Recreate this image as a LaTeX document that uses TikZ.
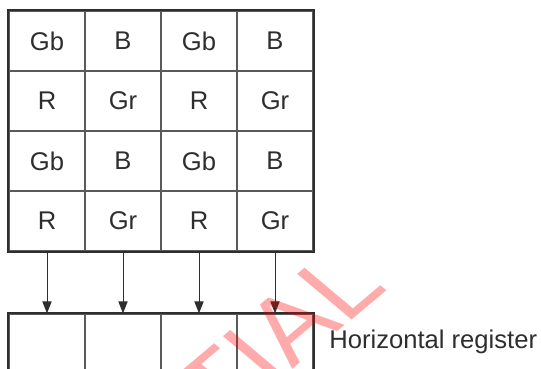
\documentclass[tikz,border=0pt]{standalone}
\usepackage{fontspec}
\setmainfont{Liberation Sans}
\usetikzlibrary{arrows.meta,positioning}
\definecolor{ink}{HTML}{2E2E2E}
\definecolor{thin}{HTML}{5A5A5A}
\tikzset{
  pixel/.style={draw=thin,line width=0.6pt,rectangle,minimum width=38pt,minimum height=30pt,inner sep=0pt,text=ink,font=\fontsize{12.8}{15}\selectfont},
  frame/.style={draw=ink,line width=1pt},
  transfer/.style={draw=ink,line width=0.5pt,-{Triangle[length=6pt,width=4.6pt]}},
  watermark/.style={text=red,opacity=0.33,font=\fontsize{47}{52}\selectfont,inner sep=0pt}
}
\begin{document}
\begin{tikzpicture}[x=0.5pt,y=-0.5pt]
        \useasboundingbox (0,0) rectangle (541,369);
        \clip (0,0) rectangle (541,369);
        % Pixel array
        \node[pixel] (p11) at (47,41) {Gb};
        \node[pixel] (p12) at (123,41) {B};
        \node[pixel] (p13) at (199,41) {Gb};
        \node[pixel] (p14) at (275,41) {B};
        \node[pixel] (p21) at (47,101) {R};
        \node[pixel] (p22) at (123,101) {Gr};
        \node[pixel] (p23) at (199,101) {R};
        \node[pixel] (p24) at (275,101) {Gr};
        \node[pixel] (p31) at (47,161) {Gb};
        \node[pixel] (p32) at (123,161) {B};
        \node[pixel] (p33) at (199,161) {Gb};
        \node[pixel] (p34) at (275,161) {B};
        \node[pixel] (p41) at (47,221) {R};
        \node[pixel] (p42) at (123,221) {Gr};
        \node[pixel] (p43) at (199,221) {R};
        \node[pixel] (p44) at (275,221) {Gr};
        \draw[frame] (p11.north west) rectangle (p44.south east);
        % Horizontal register
        \node[pixel] (h1) at (47,344) {};
        \node[pixel] (h2) at (123,344) {};
        \node[pixel] (h3) at (199,344) {};
        \node[pixel] (h4) at (275,344) {};
        \draw[frame] (h1.south west) -- (h1.north west) -- (h4.north east) -- (h4.south east);
        \node[anchor=west,text=ink,font=\fontsize{12.8}{15}\selectfont,inner sep=0pt] (reg) at (329,342) {Horizontal register};
        % Transfer
        \draw[transfer] (p41.south) -- (h1.north);
        \draw[transfer] (p42.south) -- (h2.north);
        \draw[transfer] (p43.south) -- (h3.north);
        \draw[transfer] (p44.south) -- (h4.north);
        % Stamp
        \node[watermark,anchor=base east,xscale=1.19,rotate=45] (wm) at (390,288) {CONFIDENTIAL};
    \end{tikzpicture}
\end{document}
